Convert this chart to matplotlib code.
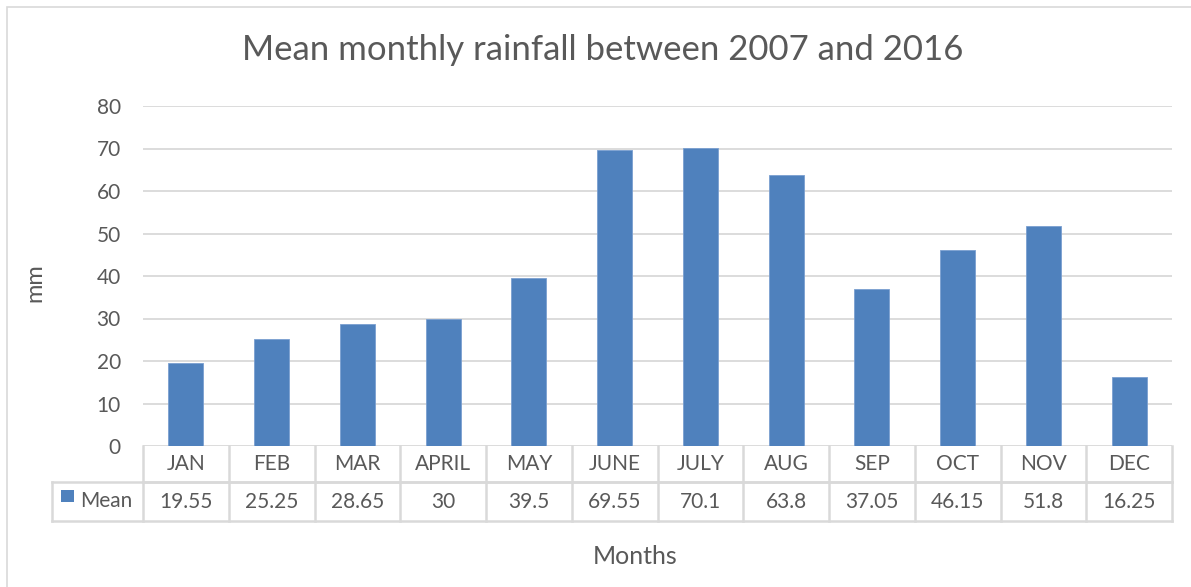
import matplotlib.pyplot as plt
from matplotlib.patches import Rectangle
import matplotlib.transforms as mtransforms

months = ['JAN', 'FEB', 'MAR', 'APRIL', 'MAY', 'JUNE', 'JULY', 'AUG', 'SEP', 'OCT', 'NOV', 'DEC']
mean_rain = [19.55, 25.25, 28.65, 30, 39.5, 69.55, 70.1, 63.8, 37.05, 46.15, 51.8, 16.25]
mean_labels = ['19.55', '25.25', '28.65', '30', '39.5', '69.55', '70.1', '63.8', '37.05', '46.15', '51.8', '16.25']
yticks = [0, 10, 20, 30, 40, 50, 60, 70, 80]

plt.rcParams['font.family'] = ['Lato', 'DejaVu Sans']
TXT = '#595959'
GRID = '#d9d9d9'
BAR = '#4f81bd'

W, H = 1191, 587
fig = plt.figure(figsize=(W / 100, H / 100), dpi=100)

# outer chart border
fig.patches.append(Rectangle((7 / W, -0.01), 1.0, 1 - 7 / H + 0.01, transform=fig.transFigure,
                             fill=False, edgecolor=GRID, lw=1.2))

x0, x1, ytop, ybot = 143, 1172, 106, 446
ax = fig.add_axes([x0 / W, 1 - ybot / H, (x1 - x0) / W, (ybot - ytop) / H])

xs = range(len(months))
ax.bar(xs, mean_rain, width=0.41, color=BAR, edgecolor='#7a9fd0', lw=0.6, zorder=3)
ax.set_xlim(-0.5, len(months) - 0.5)
ax.set_ylim(0, 80)
ax.set_yticks(yticks)
ax.set_yticklabels([str(v) for v in yticks], fontsize=15, color=TXT)
ax.tick_params(axis='y', length=0, pad=16)
ax.set_xticks([])
ax.grid(axis='y', color=GRID, lw=1.3, zorder=0)
for s in ax.spines.values():
    s.set_visible(False)

fig.text(603 / W, 1 - 50 / H, 'Mean monthly rainfall between 2007 and 2016', fontsize=25,
         color=TXT, ha='center', va='center')
fig.text(35 / W, 1 - 283 / H, 'mm', rotation=90, fontsize=17, color=TXT, ha='center', va='center')
fig.text(635 / W, 1 - 557 / H, 'Months', fontsize=18, color=TXT, ha='center', va='center')

# data table below the axis
tr = mtransforms.blended_transform_factory(ax.transData, ax.transAxes)
ph = ybot - ytop
r1 = -(482 - 446) / ph
r2 = -(521 - 446) / ph
left = -0.5 - (143 - 52) / ((x1 - x0) / len(months))
n = len(months)
lk = dict(color=GRID, lw=1.8, transform=tr, clip_on=False)
ax.plot([-0.5, n - 0.5], [r1, r1], **lk)
ax.plot([left, n - 0.5], [r1, r1], **lk)
ax.plot([left, n - 0.5], [r2, r2], **lk)
for i in range(n + 1):
    ax.plot([i - 0.5, i - 0.5], [0, r2], **lk)
ax.plot([left, left], [r1, r2], **lk)
for i, (m, v) in enumerate(zip(months, mean_labels)):
    ax.text(i, r1 / 2, m, transform=tr, ha='center', va='center', fontsize=15, color=TXT)
    ax.text(i, (r1 + r2) / 2, v, transform=tr, ha='center', va='center', fontsize=15, color=TXT)
fig.patches.append(Rectangle((61 / W, 1 - 502 / H), 13 / W, 12 / H, transform=fig.transFigure,
                             facecolor=BAR, edgecolor='none'))
fig.text(80 / W, 1 - 501 / H, 'Mean', fontsize=15, color=TXT, ha='left', va='center')

fig.savefig('out.png', dpi=100, facecolor='white')
